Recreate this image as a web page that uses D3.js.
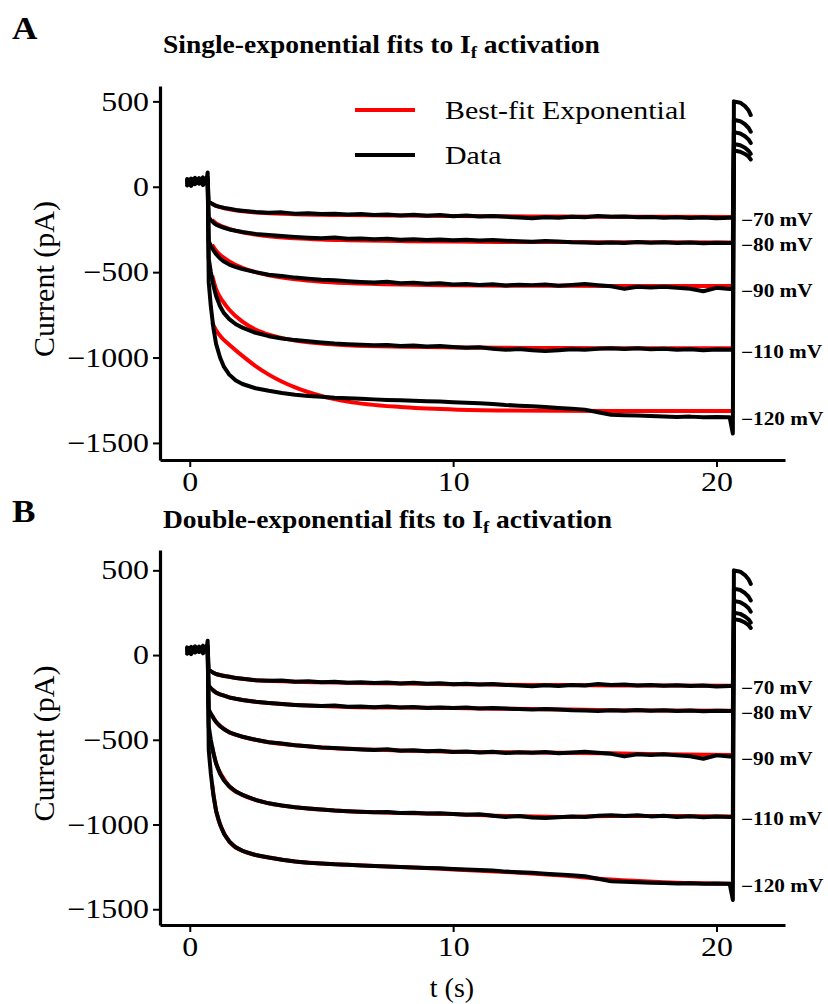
<!DOCTYPE html>
<html>
<head>
<meta charset="utf-8">
<script src="https://cdn.jsdelivr.net/npm/d3@7"></script>
<style>
  body { margin: 0; background: #fff; }
  svg { display: block; }
  svg text { font-family: "Liberation Serif", "Times New Roman", serif; fill: #000; }
</style>
</head>
<body>
<div id="chart"></div>
<script>
const svgWidth = 828;
const svgHeight = 1004;

const voltages = ["−70 mV", "−80 mV", "−90 mV", "−110 mV", "−120 mV"];

// holding period before the step
const tBase = [-0.1, 0.05, 0.2, 0.35, 0.5, 0.62, 0.68];
const baseCurrents = [
  [30, 12, 35, 22, 48, 33, 45],
  [8, 28, 15, 40, 25, 52, 30],
  [45, 33, 52, 18, 30, 42, 35],
  [20, 48, 28, 50, 10, 30, 55],
  [38, 5, 42, 30, 55, 20, 84]
];

// recorded current after the step (pA)
const tMain = [0.72, 0.8, 0.9, 1.0, 1.15, 1.3, 1.5, 1.75, 2.0, 2.5, 3.0, 3.5, 4.0, 4.5, 5.0, 5.5,
  6.0, 6.5, 7.0, 7.5, 8.0, 8.5, 9.0, 9.5, 10.0, 10.5, 11.0, 11.5, 12.0, 12.5, 13.0, 13.5,
  14.0, 14.5, 15.0, 15.5, 16.0, 16.5, 17.0, 17.5, 18.0, 18.5, 19.0, 19.5, 20.0, 20.5];
const dataCurrents = [
  [-85, -95, -105, -112, -118, -124, -128, -136, -140, -148, -152, -150, -158, -155, -160, -158,
   -163, -160, -165, -162, -168, -164, -170, -166, -172, -169, -174, -171, -176, -180, -184, -178,
   -182, -176, -179, -171, -176, -174, -179, -177, -181, -178, -183, -180, -185, -182],
  [-180, -195, -210, -222, -232, -240, -250, -258, -265, -276, -283, -289, -294, -298, -301, -297,
   -305, -303, -308, -304, -310, -307, -312, -309, -313, -310, -315, -312, -316, -319, -322, -318,
   -321, -325, -327, -330, -326, -329, -324, -328, -325, -330, -327, -331, -328, -330],
  [-320, -345, -372, -395, -420, -438, -456, -470, -482, -500, -515, -522, -532, -538, -545, -548,
   -553, -557, -560, -556, -565, -562, -568, -565, -572, -569, -575, -571, -578, -574, -576, -572,
   -579, -575, -570, -577, -583, -598, -585, -590, -586, -592, -597, -612, -592, -598],
  [-420, -500, -580, -640, -700, -740, -775, -805, -825, -855, -875, -888, -898, -905, -912, -918,
   -922, -925, -928, -926, -932, -930, -935, -933, -938, -942, -940, -948, -955, -950, -958, -962,
   -957, -952, -955, -948, -945, -950, -946, -952, -948, -955, -951, -957, -953, -955],
  [-560, -700, -830, -920, -1000, -1055, -1100, -1135, -1155, -1180, -1195, -1208, -1218, -1225, -1230, -1235,
   -1238, -1242, -1245, -1248, -1250, -1253, -1256, -1258, -1262, -1265, -1268, -1272, -1278, -1282, -1285, -1290,
   -1295, -1300, -1305, -1320, -1335, -1338, -1340, -1343, -1345, -1348, -1346, -1350, -1348, -1350]
];

// step back: capacitive spike then tail currents
const tTail = [20.62, 20.66, 20.9, 21.08, 21.22, 21.3];
const tailCurrents = [
  [-182, 212, 205, 192, 176, 160],
  [-330, 250, 243, 228, 210, 192],
  [-598, 320, 312, 296, 276, 256],
  [-955, 392, 384, 366, 344, 322],
  [-1445, 500, 492, 472, 446, 420]
];

// fitted curves
const tFit = [0.85, 1.0, 1.25, 1.5, 2, 2.5, 3, 4, 5, 6, 8, 10, 12, 14, 16, 18, 20.6];
const singleFits = [
  [-100, -112, -123, -132, -144, -151, -155, -161, -164, -166, -169, -171, -173, -174, -175, -176, -177],
  [-195, -215, -233, -247, -267, -280, -290, -302, -309, -313, -318, -321, -323, -324, -325, -325, -326],
  [-340, -375, -410, -437, -475, -500, -518, -542, -556, -564, -573, -577, -579, -580, -581, -581, -581],
  [-520, -600, -670, -720, -790, -836, -866, -900, -918, -928, -937, -941, -943, -944, -945, -945, -945],
  [-795, -840, -890, -925, -990, -1050, -1100, -1175, -1225, -1258, -1290, -1304, -1310, -1312, -1313, -1313, -1313]
];
const doubleFits = [
  [-100, -112, -121, -128, -140, -148, -152, -157, -161, -164, -168, -172, -175, -177, -179, -180, -181],
  [-202, -222, -237, -250, -265, -276, -283, -294, -301, -306, -310, -313, -317, -321, -325, -327, -329],
  [-358, -395, -430, -456, -482, -500, -515, -532, -545, -553, -563, -570, -574, -577, -580, -585, -590],
  [-540, -640, -720, -775, -825, -855, -875, -898, -912, -922, -932, -938, -950, -955, -950, -950, -953],
  [-765, -920, -1035, -1100, -1155, -1180, -1195, -1218, -1230, -1238, -1250, -1265, -1280, -1300, -1325, -1340, -1350]
];

const yTicks = [500, 0, -500, -1000, -1500];
const xTicks = [0, 10, 20];

const svg = d3.select("#chart").append("svg")
  .attr("width", svgWidth)
  .attr("height", svgHeight);

function zipSeries(ts, vs) {
  return ts.map((t, i) => [t, vs[i]]);
}

// the source figure has its text a little wider than plain Times
function stretch(sel, sx) {
  sel.attr("transform", function () {
    let x = +this.getAttribute("x") || 0;
    return `translate(${x * (1 - sx)},0) scale(${sx},1)`;
  });
}

function drawPanel(opts) {
  let x = d3.scaleLinear().domain([-1.13, 22.6]).range([160, 785]);
  let y = d3.scaleLinear().domain(opts.yDomain).range(opts.yRange);
  let g = svg.append("g");

  let line = d3.line().x(d => x(d[0])).y(d => y(d[1]));
  let smooth = d3.line().x(d => x(d[0])).y(d => y(d[1])).curve(d3.curveMonotoneX);

  // fits underneath
  opts.fits.forEach(f => {
    g.append("path")
      .attr("d", smooth(zipSeries(tFit, f)))
      .attr("fill", "none")
      .attr("stroke", "#ff0000")
      .attr("stroke-width", 4);
  });

  // recorded traces
  dataCurrents.forEach((vals, i) => {
    let pts = zipSeries(tBase, baseCurrents[i])
      .concat(zipSeries(tMain, vals))
      .concat(zipSeries(tTail, tailCurrents[i]));
    g.append("path")
      .attr("d", line(pts))
      .attr("fill", "none")
      .attr("stroke", "#000")
      .attr("stroke-width", 4)
      .attr("stroke-linejoin", "round")
      .attr("stroke-linecap", "round");

    let lab = g.append("text")
      .attr("x", 741)
      .attr("y", y(vals[vals.length - 1]) + 4)
      .attr("dominant-baseline", "middle")
      .attr("font-size", 18)
      .attr("font-weight", "bold")
      .text(voltages[i]);
    stretch(lab, 1.18);
  });

  // axes
  let yAxis = g.append("g")
    .attr("transform", "translate(160,0)")
    .call(d3.axisLeft(y).tickValues(yTicks).tickFormat(d3.format("d"))
      .tickSize(7).tickSizeOuter(0).tickPadding(4));
  let xAxis = g.append("g")
    .attr("transform", `translate(0,${opts.yRange[0]})`)
    .call(d3.axisBottom(x).tickValues(xTicks).tickFormat(d3.format("d"))
      .tickSize(7).tickSizeOuter(0).tickPadding(5));
  [yAxis, xAxis].forEach(a => {
    a.attr("font-family", null);
    a.select(".domain").attr("stroke-width", 3.2);
    a.selectAll(".tick line").attr("stroke-width", 2);
    a.selectAll(".tick text")
      .attr("font-size", 27)
      .call(stretch, 1.18);
  });

  g.append("text")
    .attr("transform", `translate(54,${(opts.yRange[0] + opts.yRange[1]) / 2 + 6}) rotate(-90)`)
    .attr("text-anchor", "middle")
    .attr("font-size", 30)
    .text("Current (pA)");

  // panel letter and title
  g.append("text")
    .attr("x", 12)
    .attr("y", opts.letterY)
    .attr("font-size", 32)
    .attr("font-weight", "bold")
    .text(opts.letter)
    .call(stretch, 1.1);
  let title = g.append("text")
    .attr("x", 163)
    .attr("y", opts.titleY)
    .attr("font-size", 25)
    .attr("font-weight", "bold");
  title.append("tspan").text(opts.title + " to I");
  title.append("tspan").attr("dy", 5).attr("font-size", 17).text("f");
  title.append("tspan").attr("dy", -5).text(" activation");
  stretch(title, 1.1);

  return { x, y, g };
}

drawPanel({
  yDomain: [-1600, 590], yRange: [460, 86],
  fits: singleFits, letter: "A", letterY: 39,
  title: "Single-exponential fits", titleY: 53
});

drawPanel({
  yDomain: [-1593, 620], yRange: [925, 550],
  fits: doubleFits, letter: "B", letterY: 522,
  title: "Double-exponential fits", titleY: 528
});

// legend (panel A)
const legendItems = [
  { label: "Best-fit Exponential", color: "#ff0000" },
  { label: "Data", color: "#000" }
];
legendItems.forEach((d, i) => {
  let ly = 110 + i * 45;
  svg.append("line")
    .attr("x1", 355).attr("x2", 415)
    .attr("y1", ly).attr("y2", ly)
    .attr("stroke", d.color)
    .attr("stroke-width", 4);
  svg.append("text")
    .attr("x", 445)
    .attr("y", ly + 9)
    .attr("font-size", 26)
    .text(d.label)
    .call(stretch, 1.15);
});

svg.append("text")
  .attr("x", 452)
  .attr("y", 997)
  .attr("text-anchor", "middle")
  .attr("font-size", 28)
  .text("t (s)");
</script>
</body>
</html>
